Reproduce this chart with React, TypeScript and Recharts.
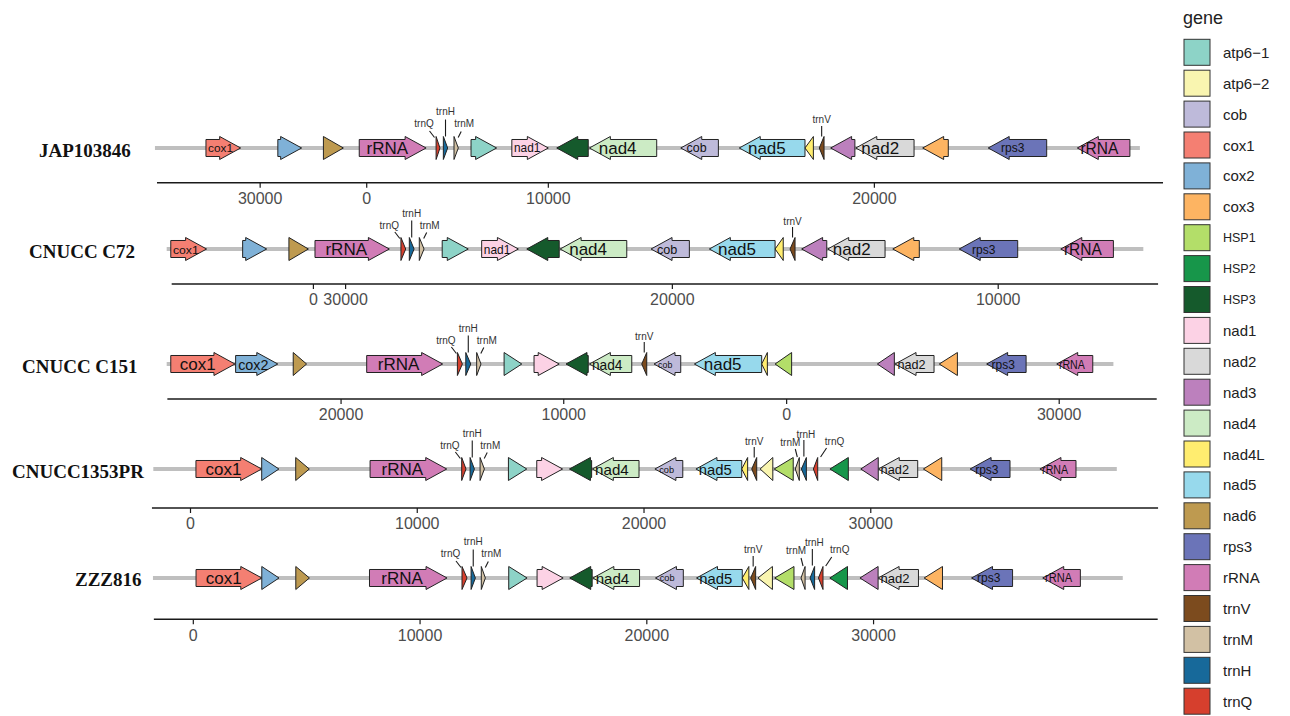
import React from "react";
import { ComposedChart, XAxis, YAxis, ReferenceArea, ReferenceLine } from "recharts";

// ---------- legend / colours ----------
const LEGEND_GENES = ["atp6-1", "atp6-2", "cob", "cox1", "cox2", "cox3", "HSP1", "HSP2", "HSP3", "nad1", "nad2", "nad3", "nad4", "nad4L", "nad5", "nad6", "rps3", "rRNA", "trnV", "trnM", "trnH", "trnQ"];
const LEGEND_LABELS = ["atp6\u22121", "atp6\u22122", "cob", "cox1", "cox2", "cox3", "HSP1", "HSP2", "HSP3", "nad1", "nad2", "nad3", "nad4", "nad4L", "nad5", "nad6", "rps3", "rRNA", "trnV", "trnM", "trnH", "trnQ"];
const GENE_COLORS = ["#8DD3C7", "#F9F5B0", "#BEBADA", "#F47F72", "#7FB1D7", "#FDB462", "#B3DE69", "#17964A", "#155A2C", "#FCD2E5", "#D9D9D9", "#BC80BD", "#CCEBC5", "#FFED6F", "#97D9EC", "#BE9A50", "#6B74B8", "#D17CB6", "#7C4B1E", "#D2C1A4", "#17699A", "#D63F2D"];

type Gene = { gene: string; start: number; end: number; strand: 1 | -1; label?: boolean };

const TRACK_NAMES = ["JAP103846", "CNUCC C72", "CNUCC C151", "CNUCC1353PR", "ZZZ816"];

// ---------- JAP103846 ----------
const JAP103846_GENES: Gene[] = [
  { gene: "cox1", start: 680, end: 2210, strand: 1, label: true },
  { gene: "cox2", start: 3850, end: 4900, strand: 1 },
  { gene: "nad6", start: 5860, end: 6740, strand: 1 },
  { gene: "rRNA", start: 7440, end: 10390, strand: 1, label: true },
  { gene: "trnQ", start: 10830, end: 11000, strand: 1 },
  { gene: "trnH", start: 11150, end: 11340, strand: 1 },
  { gene: "trnM", start: 11620, end: 11810, strand: 1 },
  { gene: "atp6-1", start: 12370, end: 13500, strand: 1 },
  { gene: "nad1", start: 14170, end: 15780, strand: 1, label: true },
  { gene: "HSP3", start: 16150, end: 17540, strand: -1 },
  { gene: "nad4", start: 17590, end: 20560, strand: -1, label: true },
  { gene: "cob", start: 21620, end: 23280, strand: -1, label: true },
  { gene: "nad5", start: 24200, end: 27100, strand: -1, label: true },
  { gene: "nad4L", start: 27100, end: 27470, strand: -1 },
  { gene: "trnV", start: 27730, end: 27940, strand: -1 },
  { gene: "nad3", start: 28230, end: 29300, strand: -1 },
  { gene: "nad2", start: 29340, end: 31910, strand: -1, label: true },
  { gene: "cox3", start: 32290, end: 33420, strand: -1 },
  { gene: "rps3", start: 35180, end: 37760, strand: -1, label: true },
  { gene: "rRNA", start: 39110, end: 41430, strand: -1, label: true },
];
const JAP103846_BACKBONE = [-1570, 41870];
const JAP103846_AXIS = [-1480, 42890];
const JAP103846_TICKS = [3070, 7770, 15780, 30160];
const JAP103846_TICK_LABELS = ["30000", "0", "10000", "20000"];

// ---------- CNUCC C72 ----------
const C72_GENES: Gene[] = [
  { gene: "cox1", start: -870, end: 710, strand: 1, label: true },
  { gene: "cox2", start: 2300, end: 3360, strand: 1 },
  { gene: "nad6", start: 4340, end: 5200, strand: 1 },
  { gene: "rRNA", start: 5490, end: 8770, strand: 1, label: true },
  { gene: "trnQ", start: 9280, end: 9490, strand: 1 },
  { gene: "trnH", start: 9650, end: 9860, strand: 1 },
  { gene: "trnM", start: 10090, end: 10300, strand: 1 },
  { gene: "atp6-1", start: 11100, end: 12250, strand: 1 },
  { gene: "nad1", start: 12840, end: 14460, strand: 1, label: true },
  { gene: "HSP3", start: 14830, end: 16260, strand: -1 },
  { gene: "nad4", start: 16300, end: 19240, strand: -1, label: true },
  { gene: "cob", start: 20310, end: 22000, strand: -1, label: true },
  { gene: "nad5", start: 22880, end: 25780, strand: -1, label: true },
  { gene: "nad4L", start: 25780, end: 26140, strand: -1 },
  { gene: "trnV", start: 26440, end: 26660, strand: -1 },
  { gene: "nad3", start: 26950, end: 28060, strand: -1 },
  { gene: "nad2", start: 28100, end: 30630, strand: -1, label: true },
  { gene: "cox3", start: 30970, end: 32140, strand: -1 },
  { gene: "rps3", start: 33900, end: 36480, strand: -1, label: true },
  { gene: "rRNA", start: 38380, end: 40700, strand: -1, label: true },
];
const C72_BACKBONE = [-1050, 42020];
const C72_AXIS = [-830, 42670];
const C72_TICKS = [5420, 6840, 21250, 35620];
const C72_TICK_LABELS = ["0", "30000", "20000", "10000"];

// ---------- CNUCC C151 ----------
const C151_GENES: Gene[] = [
  { gene: "cox1", start: -870, end: 1960, strand: 1, label: true },
  { gene: "cox2", start: 1990, end: 3850, strand: 1, label: true },
  { gene: "nad6", start: 4530, end: 5120, strand: 1 },
  { gene: "rRNA", start: 7770, end: 11120, strand: 1, label: true },
  { gene: "trnQ", start: 11770, end: 11990, strand: 1 },
  { gene: "trnH", start: 12140, end: 12360, strand: 1 },
  { gene: "trnM", start: 12620, end: 12810, strand: 1 },
  { gene: "atp6-1", start: 13830, end: 14610, strand: 1 },
  { gene: "nad1", start: 15150, end: 16260, strand: 1 },
  { gene: "HSP3", start: 16560, end: 17540, strand: -1 },
  { gene: "nad4", start: 17590, end: 19460, strand: -1, label: true },
  { gene: "trnV", start: 19900, end: 20120, strand: -1 },
  { gene: "cob", start: 20440, end: 21620, strand: -1, label: true },
  { gene: "nad5", start: 22220, end: 25190, strand: -1, label: true },
  { gene: "nad4L", start: 25190, end: 25440, strand: -1 },
  { gene: "HSP1", start: 25780, end: 26510, strand: -1 },
  { gene: "nad3", start: 30290, end: 31040, strand: -1 },
  { gene: "nad2", start: 31070, end: 32790, strand: -1, label: true },
  { gene: "cox3", start: 33020, end: 33820, strand: -1 },
  { gene: "rps3", start: 35110, end: 36850, strand: -1, label: true },
  { gene: "rRNA", start: 38200, end: 39790, strand: -1, label: true },
];
const C151_BACKBONE = [-1050, 40700];
const C151_AXIS = [-1020, 42610];
const C151_TICKS = [6640, 16460, 26290, 38310];
const C151_TICK_LABELS = ["20000", "10000", "0", "30000"];

// ---------- CNUCC1353PR ----------
const C1353PR_GENES: Gene[] = [
  { gene: "cox1", start: 240, end: 3140, strand: 1, label: true },
  { gene: "cox2", start: 3140, end: 3900, strand: 1 },
  { gene: "nad6", start: 4640, end: 5240, strand: 1 },
  { gene: "rRNA", start: 7920, end: 11300, strand: 1, label: true },
  { gene: "trnQ", start: 11960, end: 12150, strand: 1 },
  { gene: "trnH", start: 12330, end: 12520, strand: 1 },
  { gene: "trnM", start: 12770, end: 12960, strand: 1 },
  { gene: "atp6-1", start: 14020, end: 14830, strand: 1 },
  { gene: "nad1", start: 15270, end: 16410, strand: 1 },
  { gene: "HSP3", start: 16710, end: 17690, strand: -1 },
  { gene: "nad4", start: 17720, end: 19780, strand: -1, label: true },
  { gene: "cob", start: 20480, end: 21710, strand: -1, label: true },
  { gene: "nad5", start: 22290, end: 24310, strand: -1, label: true },
  { gene: "nad4L", start: 24310, end: 24570, strand: -1 },
  { gene: "trnV", start: 24750, end: 24970, strand: -1 },
  { gene: "atp6-2", start: 25120, end: 25680, strand: -1 },
  { gene: "HSP1", start: 25740, end: 26580, strand: -1 },
  { gene: "trnM", start: 26670, end: 26850, strand: -1 },
  { gene: "trnH", start: 26940, end: 27160, strand: -1 },
  { gene: "trnQ", start: 27470, end: 27660, strand: -1 },
  { gene: "HSP2", start: 28200, end: 29010, strand: -1 },
  { gene: "nad3", start: 29560, end: 30330, strand: -1 },
  { gene: "nad2", start: 30330, end: 32070, strand: -1, label: true },
  { gene: "cox3", start: 32320, end: 33130, strand: -1 },
  { gene: "rps3", start: 34380, end: 36140, strand: -1, label: true },
  { gene: "rRNA", start: 37460, end: 39050, strand: -1, label: true },
];
const C1353PR_BACKBONE = [-1640, 40850];
const C1353PR_AXIS = [-1700, 42670];
const C1353PR_TICKS = [0, 10000, 20000, 30000];
const C1353PR_TICK_LABELS = ["0", "10000", "20000", "30000"];

// ---------- ZZZ816 ----------
const ZZZ816_GENES: Gene[] = [
  { gene: "cox1", start: 120, end: 3020, strand: 1, label: true },
  { gene: "cox2", start: 3020, end: 3780, strand: 1 },
  { gene: "nad6", start: 4520, end: 5120, strand: 1 },
  { gene: "rRNA", start: 7770, end: 11190, strand: 1, label: true },
  { gene: "trnQ", start: 11850, end: 12070, strand: 1 },
  { gene: "trnH", start: 12250, end: 12440, strand: 1 },
  { gene: "trnM", start: 12700, end: 12880, strand: 1 },
  { gene: "atp6-1", start: 13910, end: 14720, strand: 1 },
  { gene: "nad1", start: 15160, end: 16310, strand: 1 },
  { gene: "HSP3", start: 16600, end: 17590, strand: -1 },
  { gene: "nad4", start: 17620, end: 19680, strand: -1, label: true },
  { gene: "cob", start: 20380, end: 21610, strand: -1, label: true },
  { gene: "nad5", start: 22190, end: 24210, strand: -1, label: true },
  { gene: "nad4L", start: 24210, end: 24500, strand: -1 },
  { gene: "trnV", start: 24580, end: 24800, strand: -1 },
  { gene: "atp6-2", start: 24900, end: 25540, strand: -1 },
  { gene: "HSP1", start: 25640, end: 26490, strand: -1 },
  { gene: "trnM", start: 26800, end: 26980, strand: -1 },
  { gene: "trnH", start: 27200, end: 27400, strand: -1 },
  { gene: "trnQ", start: 27570, end: 27770, strand: -1 },
  { gene: "HSP2", start: 28070, end: 28850, strand: -1 },
  { gene: "nad3", start: 29400, end: 30200, strand: -1 },
  { gene: "nad2", start: 30200, end: 31980, strand: -1, label: true },
  { gene: "cox3", start: 32230, end: 33040, strand: -1 },
  { gene: "rps3", start: 34320, end: 36130, strand: -1, label: true },
  { gene: "rRNA", start: 37460, end: 39120, strand: -1, label: true },
];
const ZZZ816_BACKBONE = [-1780, 40990];
const ZZZ816_AXIS = [-1740, 42530];
const ZZZ816_TICKS = [0, 10000, 20000, 30000];
const ZZZ816_TICK_LABELS = ["0", "10000", "20000", "30000"];

const TRACKS = [
  { name: TRACK_NAMES[0], genes: JAP103846_GENES, backbone: JAP103846_BACKBONE, axis: JAP103846_AXIS, ticks: JAP103846_TICKS, tickLabels: JAP103846_TICK_LABELS },
  { name: TRACK_NAMES[1], genes: C72_GENES, backbone: C72_BACKBONE, axis: C72_AXIS, ticks: C72_TICKS, tickLabels: C72_TICK_LABELS },
  { name: TRACK_NAMES[2], genes: C151_GENES, backbone: C151_BACKBONE, axis: C151_AXIS, ticks: C151_TICKS, tickLabels: C151_TICK_LABELS },
  { name: TRACK_NAMES[3], genes: C1353PR_GENES, backbone: C1353PR_BACKBONE, axis: C1353PR_AXIS, ticks: C1353PR_TICKS, tickLabels: C1353PR_TICK_LABELS },
  { name: TRACK_NAMES[4], genes: ZZZ816_GENES, backbone: ZZZ816_BACKBONE, axis: ZZZ816_AXIS, ticks: ZZZ816_TICKS, tickLabels: ZZZ816_TICK_LABELS },
];

// ---------- layout / style ----------
const LAYOUT = [
  { cy: 148, axisY: 182.7, x0: 190.5, nameX: 39 },
  { cy: 249.3, axisY: 284.3, x0: 190.5, nameX: 29 },
  { cy: 364.3, axisY: 399.3, x0: 190.5, nameX: 22 },
  { cy: 469.3, axisY: 508.3, x0: 190.5, nameX: 12 },
  { cy: 577.7, axisY: 619, x0: 193.3, nameX: 75 },
];
const BP_PER_PX = 44.1;
const PLOT_LEFT = 150;
const PLOT_RIGHT = 1170;
const ABOVE = 52;
const XAXIS_H = 32;
const HALF_H = 11.5;
const BACKBONE_HALF = 2;
const HEAD_LEN = 21;
const SANS = "'Liberation Sans', Arial, Helvetica, sans-serif";
const SERIF = "'Liberation Serif', 'Times New Roman', serif";
const LABEL_MAX: Record<string, number> = { rps3: 12 };

const CALLOUT_STYLE: Record<string, { tx: number; ty: number; l1: [number, number]; l2: [number, number] }> = {
  "trnQ+": { tx: -14, ty: -24, l1: [-8.5, -17], l2: [-3.5, -10.5] },
  "trnH+": { tx: 0, ty: -36, l1: [0, -28.5], l2: [0, -11.5] },
  "trnM+": { tx: 8, ty: -24, l1: [5, -16.5], l2: [2, -10.5] },
  "trnM-": { tx: -7, ty: -27, l1: [-2, -20], l2: [0, -12] },
  "trnH-": { tx: 2, ty: -35, l1: [0, -29], l2: [0, -12.5] },
  "trnQ-": { tx: 19, ty: -28, l1: [11, -21], l2: [5, -12] },
  "trnV-": { tx: 0, ty: -28, l1: [0, -22], l2: [0, -11.5] },
};

function colorOf(g: string) {
  const i = LEGEND_GENES.indexOf(g);
  return i >= 0 ? GENE_COLORS[i] : "#999";
}

function GeneArrow(props: any) {
  const { x, y, width, height, gene } = props;
  if (x == null || !isFinite(x) || !isFinite(width)) return null;
  const g: Gene = gene;
  const cy = y + height / 2;
  const hh = Math.abs(height) / 2;
  const bh = hh * 0.74;
  const w = Math.abs(width);
  const head = Math.min(w, HEAD_LEN);
  const s = g.strand;
  const tail = s === 1 ? x : x + w;
  const tip = s === 1 ? x + w : x;
  const neck = tip - s * head;
  const pts =
    head >= w - 0.001
      ? [[tail, cy - hh], [tip, cy], [tail, cy + hh]]
      : [[tail, cy - bh], [neck, cy - bh], [neck, cy - hh], [tip, cy], [neck, cy + hh], [neck, cy + bh], [tail, cy + bh]];
  const mid = x + w / 2;
  let label = null;
  if (g.label) {
    const fs = Math.max(8, Math.min(LABEL_MAX[g.gene] ?? 17, w * 0.33));
    const natural = fs * 0.58 * g.gene.length;
    const fit = 0.72 * w;
    const squeeze = fit < natural;
    label = (
      <text
        x={mid - 0.08 * w}
        y={cy + 0.5}
        textAnchor="middle"
        dominantBaseline="central"
        fontSize={fs}
        fontFamily={SANS}
        fill="#111"
        {...(squeeze ? { textLength: fit, lengthAdjust: "spacingAndGlyphs" } : {})}
      >
        {g.gene}
      </text>
    );
  }
  const co = CALLOUT_STYLE[`${g.gene}${s === 1 ? "+" : "-"}`];
  let callout = null;
  if (co) {
    callout = (
      <g>
        <line x1={mid + co.l1[0]} y1={cy + co.l1[1]} x2={mid + co.l2[0]} y2={cy + co.l2[1]} stroke="#1a1a1a" strokeWidth={1.1} />
        <text x={mid + co.tx} y={cy + co.ty} textAnchor="middle" dominantBaseline="central" fontSize={10} fontFamily={SANS} fill="#333">
          {g.gene}
        </text>
      </g>
    );
  }
  return (
    <g>
      <polygon points={pts.map((p) => p.join(",")).join(" ")} fill={colorOf(g.gene)} stroke="#222" strokeWidth={1} strokeLinejoin="miter" />
      {label}
      {callout}
    </g>
  );
}

function Track({ idx }: { idx: number }) {
  const t = TRACKS[idx];
  const lay = LAYOUT[idx];
  const bbY = lay.axisY - lay.cy;
  const plotH = ABOVE + bbY;
  const h = plotH + XAXIS_H;
  const domain = [(PLOT_LEFT - lay.x0) * BP_PER_PX, (PLOT_RIGHT - lay.x0) * BP_PER_PX];
  return (
    <div style={{ position: "absolute", left: 0, top: lay.cy - ABOVE, width: 1290, height: h }}>
      <ComposedChart width={1290} height={h} margin={{ top: 0, right: 1290 - PLOT_RIGHT, bottom: 0, left: PLOT_LEFT }}>
        <XAxis
          type="number"
          dataKey="pos"
          domain={domain}
          allowDataOverflow
          ticks={t.ticks}
          interval={0}
          tickFormatter={(v: number) => t.tickLabels[t.ticks.indexOf(v)] ?? String(v)}
          axisLine={false}
          tickLine={{ stroke: "#1a1a1a", strokeWidth: 1.2 }}
          tickSize={5}
          tickMargin={5}
          height={XAXIS_H}
          tick={{ fontSize: 16, fill: "#4d4d4d", fontFamily: SANS }}
        />
        <YAxis type="number" hide domain={[0, plotH]} allowDataOverflow />
        <ReferenceLine segment={[{ x: t.axis[0], y: 0 }, { x: t.axis[1], y: 0 }]} stroke="#1a1a1a" strokeWidth={1.6} ifOverflow="visible" />
        <ReferenceArea
          x1={t.backbone[0]}
          x2={t.backbone[1]}
          y1={bbY - BACKBONE_HALF}
          y2={bbY + BACKBONE_HALF}
          ifOverflow="visible"
          fill="#bfbfbf"
          fillOpacity={1}
          stroke="none"
        />
        {t.genes.map((g, i) => (
          <ReferenceArea
            key={i}
            x1={g.start}
            x2={g.end}
            y1={bbY - HALF_H}
            y2={bbY + HALF_H}
            ifOverflow="visible"
            shape={(p: any) => <GeneArrow {...p} gene={g} />}
          />
        ))}
      </ComposedChart>
    </div>
  );
}

function Overlay() {
  const step = 30.9;
  return (
    <svg width={1290} height={716} style={{ position: "absolute", left: 0, top: 0 }}>
      {TRACKS.map((t, i) => (
        <text key={t.name} x={LAYOUT[i].nameX} y={LAYOUT[i].cy + 2} dominantBaseline="central" fontFamily={SERIF} fontWeight="bold" fontSize={19} fill="#111">
          {t.name}
        </text>
      ))}
      <text x={1183} y={18} dominantBaseline="central" fontFamily={SANS} fontSize={18} fill="#222">
        gene
      </text>
      {LEGEND_GENES.map((g, i) => {
        const y = 39.3 + i * step;
        const isHsp = g.startsWith("HSP");
        return (
          <g key={g}>
            <rect x={1184} y={y} width={26} height={26} fill={GENE_COLORS[i]} stroke="#333" strokeWidth={1} />
            <text x={1223} y={y + 13} dominantBaseline="central" fontFamily={SANS} fontSize={isHsp ? 12.5 : 15} fill="#222">
              {LEGEND_LABELS[i]}
            </text>
          </g>
        );
      })}
    </svg>
  );
}

export default function App() {
  return (
    <div style={{ position: "absolute", left: 0, top: 0, width: 1290, height: 716, background: "#fff", overflow: "hidden" }}>
      <Overlay />
      {TRACKS.map((_, i) => (
        <Track key={i} idx={i} />
      ))}
    </div>
  );
}
